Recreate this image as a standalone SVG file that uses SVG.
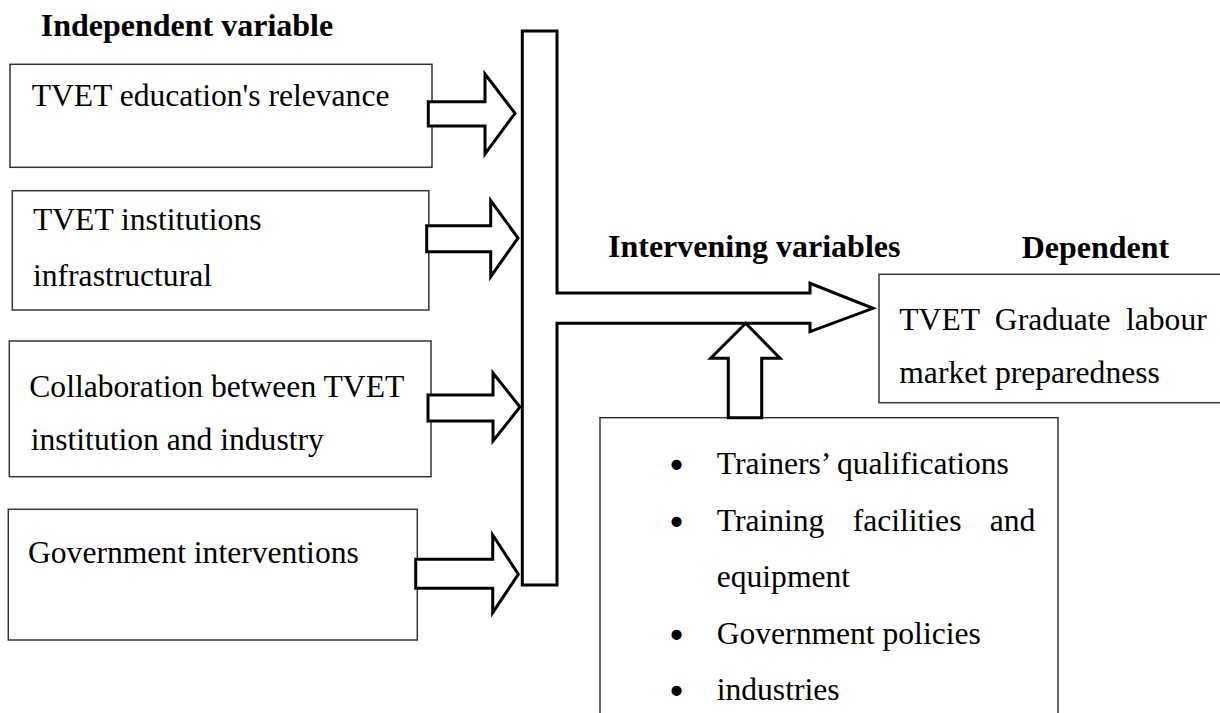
<svg xmlns="http://www.w3.org/2000/svg" width="1220" height="713" viewBox="0 0 1220 713">
<style>
.box{fill:#fff;stroke:#333;stroke-width:1.5}
.arr{fill:#fff;stroke:#000;stroke-width:3;stroke-linejoin:miter}
.t{font-family:"Liberation Serif","Times New Roman",serif;font-size:31.6px;fill:#000}
.bul{font-family:"Liberation Serif","Times New Roman",serif;font-size:31.6px;fill:#000;stroke:#000;stroke-width:2.6}
.b{font-family:"Liberation Serif","Times New Roman",serif;font-size:32px;font-weight:bold;fill:#000}
</style>
<rect width="1220" height="713" fill="#fff"/>
<text class="b" x="40.7" y="35.7">Independent variable</text>
<text class="b" x="608" y="256.7">Intervening variables</text>
<text class="b" x="1021.7" y="257.7">Dependent</text>

<g id="iv1">
<rect class="box" x="10" y="64.3" width="422" height="103"/>
<text class="t" x="31.7" y="106">TVET education's relevance</text>
</g>
<g id="iv2">
<rect class="box" x="12.3" y="190.7" width="416.5" height="119.3"/>
<text class="t" x="33" y="230">TVET institutions</text>
<text class="t" x="33" y="286">infrastructural</text>
</g>
<g id="iv3">
<rect class="box" x="9.3" y="341" width="421.7" height="135.7"/>
<text class="t" x="29.3" y="396.7">Collaboration between TVET</text>
<text class="t" x="30.7" y="450">institution and industry</text>
</g>
<g id="iv4">
<rect class="box" x="8.3" y="509.3" width="409" height="130.7"/>
<text class="t" x="28" y="563">Government interventions</text>
</g>
<g id="dv">
<rect class="box" x="879" y="274.3" width="360" height="128.4"/>
<text class="t" x="899.3" y="330" word-spacing="7.5">TVET Graduate labour</text>
<text class="t" x="899.3" y="383.3">market preparedness</text>
</g>
<g id="intervening">
<rect class="box" x="600" y="417.7" width="458" height="320"/>
<text class="bul" x="671" y="476">•</text>
<text class="t" x="716.7" y="474">Trainers’ qualifications</text>
<text class="bul" x="671" y="532.5">•</text>
<text class="t" x="716.7" y="530.5" word-spacing="20.4">Training facilities and</text>
<text class="t" x="716.7" y="587">equipment</text>
<text class="bul" x="671" y="645.5">•</text>
<text class="t" x="716.7" y="643.5">Government policies</text>
<text class="bul" x="671" y="702">•</text>
<text class="t" x="716.7" y="700">industries</text>
</g>

<g id="connectors">
<polygon class="arr" points="428.3,101.7 485,101.7 485,74 515,113.3 485,154 485,126 428.3,126"/>
<polygon class="arr" points="426.7,225.7 490.7,225.7 490.7,200.7 518,238 490.7,276.7 490.7,251.7 426.7,251.7"/>
<polygon class="arr" points="428,395 493,395 493,373 520,407 493,441 493,421 428,421"/>
<polygon class="arr" points="415.7,559.3 492.7,559.3 492.7,535 518.3,574.3 492.7,612.7 492.7,588.3 415.7,588.3"/>
<polygon class="arr" points="522.3,31 557,31 557,293 810,293 810,283.3 873,308.3 810,331.7 810,323.3 557,323.3 557,585 522.3,585"/>
<polygon class="arr" points="745.7,323.3 780,358.3 761.7,358.3 761.7,417.7 728.3,417.7 728.3,358.3 710.7,358.3"/>
</g>
</svg>
